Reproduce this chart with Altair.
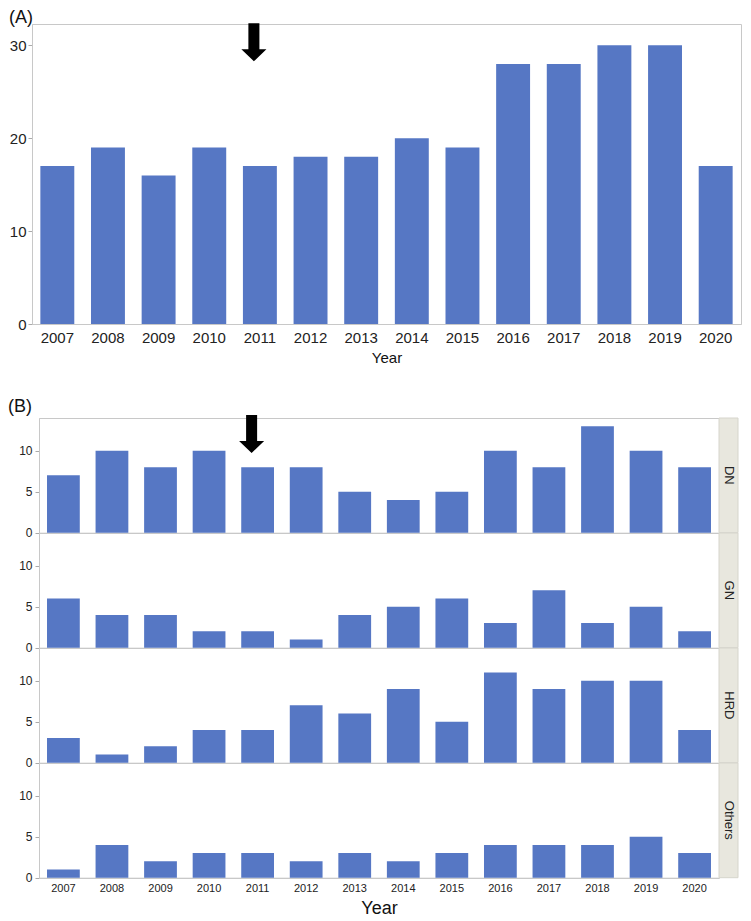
import altair as alt
import pandas as pd

# ---------------- data ----------------
years = ["2007", "2008", "2009", "2010", "2011", "2012", "2013",
         "2014", "2015", "2016", "2017", "2018", "2019", "2020"]
total = [17, 19, 16, 19, 17, 18, 18, 20, 19, 28, 28, 30, 30, 17]
dn = [7, 10, 8, 10, 8, 8, 5, 4, 5, 10, 8, 13, 10, 8]
gn = [6, 4, 4, 2, 2, 1, 4, 5, 6, 3, 7, 3, 5, 2]
hrd = [3, 1, 2, 4, 4, 7, 6, 9, 5, 11, 9, 10, 10, 4]
others = [1, 4, 2, 3, 3, 2, 3, 2, 3, 4, 4, 4, 5, 3]
categories = ["DN", "GN", "HRD", "Others"]
arrow_year = "2011"
ticks_A = [0, 10, 20, 30]
ticks_B = [0, 5, 10]

# ---------------- style ----------------
FONT = "Liberation Sans"
BAR = "#5677C4"
STRIP = "#E8E7DE"
FRAME = "#C8C8C8"
ARROW = "M-0.29,-1 L0.29,-1 L0.29,0.37 L0.66,0.37 L0,1 L-0.66,0.37 L-0.29,0.37 Z"

dfA = pd.DataFrame({"year": years, "count": total})
rows = []
for cat, vals in zip(categories, [dn, gn, hrd, others]):
    for y, v in zip(years, vals):
        rows.append({"year": y, "cat": cat, "count": v})
dfB = pd.DataFrame(rows)

# ---------------- panel A ----------------
barsA = alt.Chart(dfA).mark_bar(color=BAR).encode(
    x=alt.X("year:N", sort=years,
            scale=alt.Scale(paddingInner=0.33, paddingOuter=0.165),
            axis=alt.Axis(title="Year", labelAngle=0, ticks=False,
                          labelFontSize=15, labelPadding=6,
                          titleFontSize=15, titlePadding=5,
                          titleFontWeight="normal")),
    y=alt.Y("count:Q", scale=alt.Scale(domain=[0, 32.3], nice=False),
            axis=alt.Axis(title=None, values=ticks_A, grid=False, tickSize=4,
                          labelFontSize=15, labelPadding=2,
                          minExtent=23, maxExtent=23)),
)
arrowA = alt.Chart(dfA).transform_filter(alt.datum.year == arrow_year).mark_point(
    shape=ARROW, filled=True, color="black", opacity=1, size=1444, xOffset=-6
).encode(x=alt.X("year:N", sort=years), y=alt.value(18.3))

chartA = alt.layer(barsA, arrowA).properties(
    width=709, height=300,
    title=alt.TitleParams("(A)", anchor="start", frame="bounds", fontSize=18,
                          fontWeight="normal", offset=-4, font=FONT, color="#111"),
)

# ---------------- panel B ----------------
H = 114.7
W = 680
barsB = alt.Chart().mark_bar(color=BAR).encode(
    x=alt.X("year:N", sort=years,
            scale=alt.Scale(paddingInner=0.325, paddingOuter=0.165),
            axis=alt.Axis(title="Year", labelAngle=0, ticks=False,
                          labelFontSize=11, labelPadding=4.5,
                          titleFontSize=18, titlePadding=6,
                          titleFontWeight="normal")),
    y=alt.Y("count:Q", scale=alt.Scale(domain=[0, 14], nice=False),
            axis=alt.Axis(title=None, values=ticks_B, grid=False, tickSize=4,
                          labelFontSize=12, labelPadding=3,
                          minExtent=31, maxExtent=31)),
)
stripB = alt.Chart().transform_filter(alt.datum.year == years[0]).mark_rect(
    color=STRIP, stroke="#D6D5CC", strokeWidth=1
).encode(x=alt.value(W), x2=alt.value(W + 19), y=alt.value(0), y2=alt.value(H))
textB = alt.Chart().transform_filter(alt.datum.year == years[0]).mark_text(
    angle=90, fontSize=13, color="#222", font=FONT, align="center", baseline="middle"
).encode(x=alt.value(W + 9.5), y=alt.value(H / 2), text="cat:N")
arrowB = alt.Chart().transform_filter(
    (alt.datum.year == arrow_year) & (alt.datum.cat == categories[0])
).mark_point(
    shape=ARROW, filled=True, color="black", opacity=1, size=1444, xOffset=-6
).encode(x=alt.X("year:N", sort=years), y=alt.value(16))

chartB = alt.layer(barsB, stripB, textB, arrowB, data=dfB).properties(
    width=W, height=H
).facet(
    row=alt.Row("cat:N", sort=categories, header=alt.Header(labels=False, title=None)),
    spacing=0, bounds="flush",
).properties(
    title=alt.TitleParams("(B)", anchor="start", frame="bounds", fontSize=18,
                          fontWeight="normal", offset=-1, font=FONT, color="#111"),
)

# invisible spacer so that panel B's plot sits 8px right of panel A's plot
spacer = alt.Chart(pd.DataFrame({"a": [0]})).mark_point(opacity=0).encode(
    x=alt.value(0), y=alt.value(0)
).properties(width=1, height=1, view=alt.ViewBackground(stroke="transparent"))

rowB = alt.hconcat(spacer, chartB, spacing=-28)

chart = alt.vconcat(chartA, rowB, spacing=31).configure(
    font=FONT, padding=0
).configure_view(stroke=FRAME).configure_axis(
    labelFont=FONT, titleFont=FONT, labelColor="#222", titleColor="#111",
    domainColor=FRAME, tickColor="#AAAAAA",
)

chart.save("out.html", embed_options={"renderer": "svg", "actions": False})
